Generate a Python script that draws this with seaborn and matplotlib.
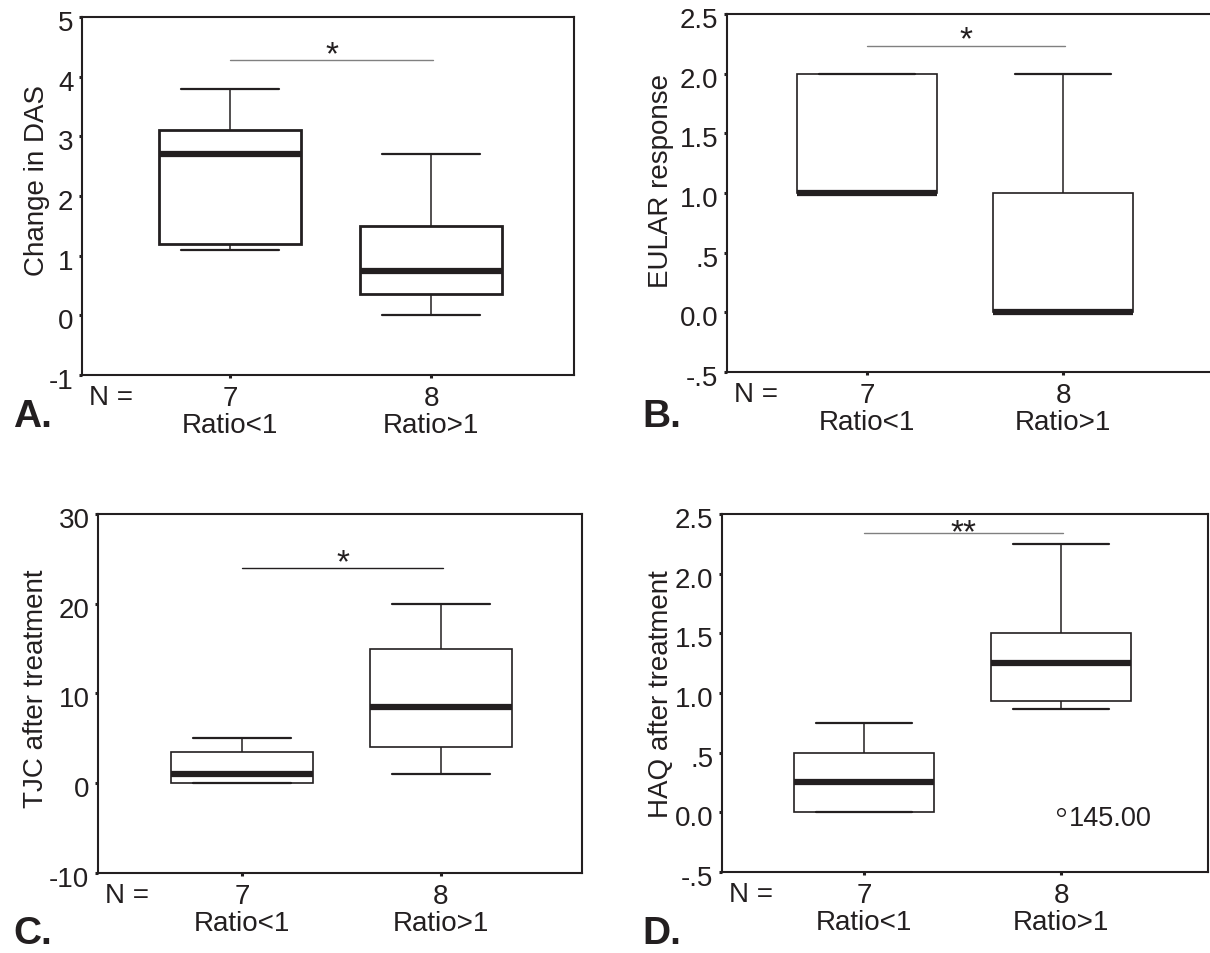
import matplotlib
matplotlib.use('Agg')
import matplotlib.pyplot as plt
import matplotlib.transforms as mtransforms
import seaborn as sns
import pandas as pd

# groups and group sizes
groups = ['Ratio<1', 'Ratio>1']
group_n = [7, 8]

# A. change in DAS (whisker low, Q1, median, Q3, whisker high)
das_low = [1.1, 0.0]
das_q1 = [1.2, 0.36]
das_med = [2.7, 0.74]
das_q3 = [3.1, 1.5]
das_high = [3.8, 2.7]
das_ticks = [-1, 0, 1, 2, 3, 4, 5]
das_tick_labels = ['-1', '0', '1', '2', '3', '4', '5']

# B. EULAR response
eular_low = [1.0, 0.0]
eular_q1 = [1.0, 0.0]
eular_med = [1.0, 0.0]
eular_q3 = [2.0, 1.0]
eular_high = [2.0, 2.0]
half_ticks = [-0.5, 0.0, 0.5, 1.0, 1.5, 2.0, 2.5]
half_tick_labels = ['-.5', '0.0', '.5', '1.0', '1.5', '2.0', '2.5']

# C. TJC after treatment
tjc_low = [0, 1]
tjc_q1 = [0, 4]
tjc_med = [1, 8.5]
tjc_q3 = [3.5, 15]
tjc_high = [5, 20]
tjc_ticks = [-10, 0, 10, 20, 30]
tjc_tick_labels = ['-10', '0', '10', '20', '30']

# D. HAQ after treatment
haq_low = [0.0, 0.87]
haq_q1 = [0.0, 0.93]
haq_med = [0.25, 1.25]
haq_q3 = [0.5, 1.5]
haq_high = [0.75, 2.25]
haq_outlier_group = ['Ratio>1']
haq_outlier_value = [0.0]
haq_outlier_label = ['145.00']

# significance bars
sig_levels = [4.28, 2.235, 24.0, 2.34]
sig_marks = ['*', '*', '*', '**']

INK = '#231f20'


def long_frame(low, q1, med, q3, high):
    rows = []
    for i, g in enumerate(groups):
        for v in (low[i], q1[i], med[i], q3[i], high[i]):
            rows.append({'group': g, 'value': v})
    return pd.DataFrame(rows)


def plot_panel(fig, ax, stats, ticks, tick_labels, ylabel, xlim, box_lw,
               sig_y, sig_text, sig_color, sig_dy, label_xy):
    df = long_frame(*stats)
    sns.boxplot(data=df, x='group', y='value', order=groups, width=0.71,
                whis=(0, 100), color='white', linecolor=INK, saturation=1,
                linewidth=1.1, showfliers=False,
                boxprops=dict(linewidth=box_lw),
                medianprops=dict(linewidth=4.5),
                whiskerprops=dict(linewidth=1.1),
                capprops=dict(linewidth=1.6),
                capwidths=0.49, ax=ax)

    ax.plot([0, 1.01], [sig_y, sig_y], color=sig_color, lw=1.0)
    ax.annotate(sig_text, xy=(0.505, sig_y), xytext=(0, sig_dy),
                textcoords='offset pixels', ha='center', va='baseline',
                fontsize=24, color=INK)

    ax.set_xlim(*xlim)
    ax.set_ylim(ticks[0], ticks[-1])
    ax.set_yticks(ticks)
    ax.set_yticklabels(tick_labels)
    ax.set_xticks(range(len(groups)))
    ax.set_xticklabels([f'{n}\n{g}' for n, g in zip(group_n, groups)],
                       linespacing=1.05)
    ax.set_xlabel('')
    ax.set_ylabel(ylabel, fontsize=20, color=INK)
    ax.yaxis.set_label_coords(*label_xy)

    ax.tick_params(axis='both', direction='out', length=2.2, width=2.2,
                   colors=INK, labelsize=20, labelcolor=INK)
    ax.tick_params(axis='y', pad=4)
    ax.tick_params(axis='x', pad=5)
    for side in ['top', 'right', 'bottom', 'left']:
        ax.spines[side].set_visible(True)
        ax.spines[side].set_linewidth(1.5)
        ax.spines[side].set_color(INK)

    shift = mtransforms.ScaledTranslation(0, -3 / 100, fig.dpi_scale_trans)
    for lab in ax.get_yticklabels():
        lab.set_transform(lab.get_transform() + shift)

    ax.annotate('N =', xy=(0.015, 0), xycoords='axes fraction',
                xytext=(0, -22), textcoords='offset pixels',
                ha='left', va='center', fontsize=20, color=INK)


def main():
    sns.set_theme(style='ticks')
    plt.rcParams['font.family'] = ['Liberation Sans', 'DejaVu Sans']

    fig = plt.figure(figsize=(12.1, 9.54), dpi=100)
    ax_a = fig.add_axes([0.0678, 0.6059, 0.4066, 0.3753])
    ax_b = fig.add_axes([0.6008, 0.6090, 0.4025, 0.3753])
    ax_c = fig.add_axes([0.0810, 0.0839, 0.4000, 0.3763])
    ax_d = fig.add_axes([0.5967, 0.0849, 0.4017, 0.3753])

    plot_panel(fig, ax_a, (das_low, das_q1, das_med, das_q3, das_high),
               das_ticks, das_tick_labels, 'Change in DAS',
               (-0.736, 1.711), 2.0, sig_levels[0], sig_marks[0],
               '#808080', -3, (-0.066, 0.546))
    plot_panel(fig, ax_b, (eular_low, eular_q1, eular_med, eular_q3, eular_high),
               half_ticks, half_tick_labels, 'EULAR response',
               (-0.714, 1.77), 1.2, sig_levels[1], sig_marks[1],
               '#808080', -3, (-0.109, 0.537))
    plot_panel(fig, ax_c, (tjc_low, tjc_q1, tjc_med, tjc_q3, tjc_high),
               tjc_ticks, tjc_tick_labels, 'TJC after treatment',
               (-0.724, 1.709), 1.2, sig_levels[2], sig_marks[2],
               INK, -3, (-0.102, 0.515))
    plot_panel(fig, ax_d, (haq_low, haq_q1, haq_med, haq_q3, haq_high),
               half_ticks, half_tick_labels, 'HAQ after treatment',
               (-0.721, 1.746), 1.2, sig_levels[3], sig_marks[3],
               '#808080', -8, (-0.099, 0.52))

    # outlier in panel D
    out_df = pd.DataFrame({'group': haq_outlier_group,
                           'value': haq_outlier_value})
    sns.stripplot(data=out_df, x='group', y='value', order=groups,
                  jitter=False, color='white', edgecolor=INK, linewidth=1,
                  size=5.5, ax=ax_d, zorder=5)
    for g, v, lab in zip(haq_outlier_group, haq_outlier_value,
                         haq_outlier_label):
        ax_d.annotate(lab, xy=(groups.index(g), v), xytext=(8, -6),
                      textcoords='offset pixels', ha='left', va='center',
                      fontsize=19.5, color=INK)
    ax_d.set_xlim(-0.721, 1.746)
    ax_d.set_xlabel('')
    ax_d.set_ylabel('HAQ after treatment', fontsize=20, color=INK)

    for letter, (x, y) in zip(['A.', 'B.', 'C.', 'D.'],
                              [(0.0107, 0.563), (0.531, 0.563),
                               (0.0107, 0.021), (0.531, 0.021)]):
        fig.text(x, y, letter, ha='left', va='center', fontsize=28,
                 fontweight='bold', color=INK)

    fig.savefig('out.png', dpi=100)


if __name__ == "__main__":
    main()
